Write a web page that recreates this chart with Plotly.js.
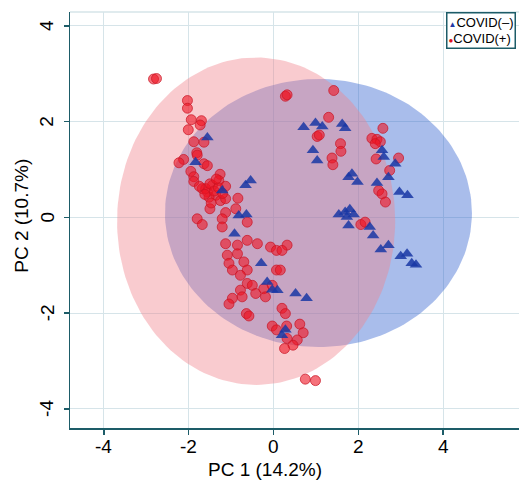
<!DOCTYPE html>
<html>
<head>
<meta charset="utf-8">
<script src="https://cdn.plot.ly/plotly-3.0.1.min.js"></script>
<style>html,body{margin:0;padding:0;background:#fff;}#chart{width:519px;height:480px;}</style>
</head>
<body>
<div id="chart"></div>
<script>
// ---- data ----
const groupNames = ["COVID(–)", "COVID(+)"];

const negX = [-1.56,-1.84,-0.54,-0.66,-1.21,-0.82,-0.64,-0.92,-0.29,-0.15,0.09,0.52,0.78,0.20,0.28,
  0.71,0.99,1.15,1.62,1.69,0.93,1.03,2.56,2.60,2.87,1.85,1.77,1.98,2.44,2.71,2.97,3.16,
  1.54,1.69,1.80,1.89,1.73,1.77,2.27,2.35,2.53,2.71,3.00,3.15,3.26,3.36,-0.03];
const negY = [1.67,1.15,0.77,0.67,0.56,0.04,0.06,-0.34,-0.96,-1.35,-1.52,-1.59,-1.69,-2.46,-2.35,
  1.88,1.97,1.90,1.95,1.86,1.40,1.19,1.40,1.26,1.12,0.91,0.84,0.74,0.72,0.84,0.53,0.46,
  0.06,0.11,0.17,0.06,0.01,-0.17,-0.20,-0.38,-0.67,-0.58,-0.81,-0.76,-0.96,-0.99,-1.51];

const posX = [-2.83,-2.76,-2.03,-2.03,-1.94,-1.70,-1.73,-2.01,-1.88,-1.64,-1.81,-1.80,-2.12,-2.23,-1.64,-1.56,
  -1.95,-1.88,-1.26,-1.88,-1.68,-1.56,-1.44,-1.29,-1.13,-1.36,-1.25,-1.52,-1.13,-0.84,-1.50,-1.13,
  -0.89,-1.80,-1.68,-1.21,-1.21,-0.62,-1.60,-1.50,-1.40,-1.62,-1.30,-1.47,-1.75,-1.20,-1.35,
  -1.13,-0.85,-0.62,-0.38,-1.09,-0.85,-1.05,-0.70,-0.62,-0.97,-0.07,0.07,-0.78,0.07,
  -0.78,-0.62,-0.50,-0.42,-0.74,-0.97,-1.05,-0.23,-0.19,-0.03,-0.64,-0.58,0.20,0.28,
  -0.03,0.07,0.31,0.62,0.70,0.56,0.46,0.26,0.32,0.75,0.99,
  0.28,0.32,1.42,1.30,1.03,1.08,1.58,1.59,1.38,1.40,2.58,2.32,2.44,2.52,2.40,2.42,2.95,2.74,
  2.48,2.56,2.64,2.06,2.16,0.32,0.20,0.16];
const posY = [2.89,2.90,2.44,2.28,2.04,2.02,1.93,1.83,1.58,1.57,1.35,1.30,1.21,1.14,1.12,1.08,
  0.96,0.85,0.90,0.75,0.60,0.53,0.67,0.77,0.65,0.46,0.35,0.42,0.39,0.40,0.18,0.10,
  0.18,-0.03,-0.15,-0.03,-0.20,-0.10,0.60,0.70,0.55,0.48,0.62,0.30,0.65,0.50,0.80,
  -0.55,-0.58,-0.48,-0.55,-0.79,-0.76,-0.96,-0.93,-1.10,-1.10,-0.62,-0.69,-1.21,-1.10,
  -1.52,-1.38,-1.42,-1.59,-1.66,-1.69,-1.81,-1.49,-1.66,-1.42,-2.01,-2.06,-1.90,-2.01,
  -2.27,-2.35,-2.27,-2.23,-2.41,-2.56,-2.67,-2.74,-2.53,-3.38,-3.41,
  2.53,2.56,2.65,2.09,1.69,1.72,1.54,1.38,1.24,1.10,1.86,1.65,1.63,1.58,1.54,1.22,1.24,0.98,
  0.56,0.49,0.32,-0.15,-0.10,-0.58,-0.69,-1.10];

// confidence ellipses: [COVID(–), COVID(+)]
const ellipseCenterX = [1.06, -0.41];
const ellipseCenterY = [0.09, -0.08];
const ellipseRadiusX = [3.62, 3.28];
const ellipseRadiusY = [2.80, 3.42];
const ellipseAngleDeg = [0, 0];

const xTicks = [-4, -2, 0, 2, 4];
const yTicks = [-4, -2, 0, 2, 4];
const xTitle = "PC 1 (14.2%)";
const yTitle = "PC 2 (10.7%)";

// ---- build ----
function ellipseOutline(i) {
  const xs = [], ys = [];
  const a = ellipseAngleDeg[i] * Math.PI / 180;
  for (let k = 0; k <= 180; k++) {
    const t = 2 * Math.PI * k / 180;
    const ex = ellipseRadiusX[i] * Math.cos(t), ey = ellipseRadiusY[i] * Math.sin(t);
    xs.push(ellipseCenterX[i] + ex * Math.cos(a) - ey * Math.sin(a));
    ys.push(ellipseCenterY[i] + ex * Math.sin(a) + ey * Math.cos(a));
  }
  return {x: xs, y: ys};
}
const ellFill = ["rgba(40,90,205,0.40)", "rgba(240,130,140,0.42)"];
const traces = [];
[0, 1].forEach(i => {
  const o = ellipseOutline(i);
  traces.push({x: o.x, y: o.y, type: "scatter", mode: "lines", fill: "toself",
    fillcolor: ellFill[i], line: {width: 0}, hoverinfo: "skip", showlegend: false});
});
traces.push({x: posX, y: posY, type: "scatter", mode: "markers", name: groupNames[1],
  marker: {symbol: "circle", size: 10, color: "rgba(238,20,35,0.6)",
    line: {color: "rgba(200,20,35,0.7)", width: 1}}, showlegend: false});
traces.push({x: negX, y: negY, type: "scatter", mode: "markers", name: groupNames[0],
  marker: {symbol: "triangle-up", size: 11, color: "rgba(25,55,165,0.85)",
    line: {width: 0}}, showlegend: false});

const teal = "#1d5c68";
const grid = "#d6e4e9";
const font = "Liberation Sans, Arial, sans-serif";

const annotations = [
  {text: xTitle, xref: "paper", yref: "paper", x: 0.434, y: -0.099, xanchor: "center", yanchor: "middle",
    showarrow: false, font: {size: 19, family: font, color: "#000"}},
  {text: yTitle, xref: "paper", yref: "paper", x: -0.107, y: 0.51, xanchor: "center", yanchor: "middle",
    textangle: -90, showarrow: false, font: {size: 19, family: font, color: "#000"}},
  {text: '<span style="color:#1f3aa5;font-size:8px">▲</span>' + groupNames[0] +
         '<br><span style="color:#e0101e;font-size:8px">●</span>' + groupNames[1],
    xref: "paper", yref: "paper", x: 0.837, y: 1, xanchor: "left", yanchor: "top", align: "left",
    showarrow: false, bgcolor: "#fff", bordercolor: teal, borderwidth: 1.5, borderpad: 1,
    font: {size: 13, family: font, color: "#000"}}
];
// y tick labels (rotated), placed at the axis values
yTicks.forEach(v => annotations.push({text: String(v), xref: "paper", yref: "y", x: -0.051, y: v,
  xanchor: "center", yanchor: "middle", textangle: -90, showarrow: false,
  font: {size: 19, family: font, color: "#000"}}));
// x tick labels, placed at the axis values
xTicks.forEach(v => annotations.push({text: String(v), xref: "x", yref: "paper", x: v, y: -0.045,
  xanchor: "center", yanchor: "middle", showarrow: false,
  font: {size: 19, family: font, color: "#000"}}));

const layout = {
  width: 519, height: 480,
  margin: {l: 70, r: 0, t: 12, b: 52},
  paper_bgcolor: "#fff", plot_bgcolor: "#fff",
  font: {family: font, color: "#000"},
  showlegend: false,
  xaxis: {range: [-4.8, 5.79], tickvals: xTicks, showticklabels: false,
    ticks: "outside", ticklen: 5, tickwidth: 1.5, tickcolor: teal,
    showline: true, linecolor: teal, linewidth: 1.5, showgrid: true, gridcolor: grid, gridwidth: 1,
    zeroline: false, automargin: false},
  yaxis: {range: [-4.4, 4.29], tickvals: yTicks, showticklabels: false,
    ticks: "outside", ticklen: 5, tickwidth: 1.5, tickcolor: teal,
    showline: true, linecolor: teal, linewidth: 1.5, showgrid: true, gridcolor: grid, gridwidth: 1,
    zeroline: false, automargin: false},
  shapes: [{type: "line", xref: "paper", yref: "paper", x0: 0, x1: 1, y0: 1, y1: 1,
    line: {color: grid, width: 1.5}}],
  annotations: annotations
};

Plotly.newPlot("chart", traces, layout, {displayModeBar: false, staticPlot: true});
</script>
</body>
</html>
